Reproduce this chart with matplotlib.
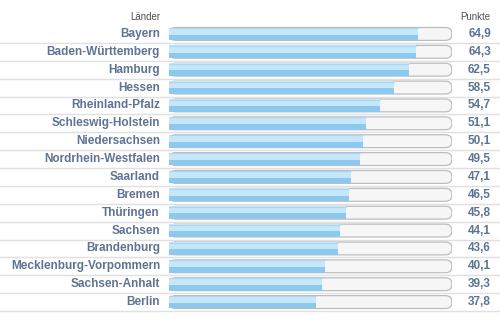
import matplotlib
matplotlib.use("Agg")
import matplotlib.pyplot as plt
from matplotlib.patches import FancyBboxPatch
import matplotlib.transforms as mtransforms

laender = [
    "Bayern", "Baden-Württemberg", "Hamburg", "Hessen", "Rheinland-Pfalz",
    "Schleswig-Holstein", "Niedersachsen", "Nordrhein-Westfalen", "Saarland",
    "Bremen", "Thüringen", "Sachsen", "Brandenburg", "Mecklenburg-Vorpommern",
    "Sachsen-Anhalt", "Berlin",
]
punkte = [64.9, 64.3, 62.5, 58.5, 54.7, 51.1, 50.1, 49.5, 47.1, 46.5, 45.8,
          44.1, 43.6, 40.1, 39.3, 37.8]
value_labels = ["64,9", "64,3", "62,5", "58,5", "54,7", "51,1", "50,1", "49,5",
                "47,1", "46,5", "45,8", "44,1", "43,6", "40,1", "39,3", "37,8"]

X_MIN, X_MAX = -1.2, 73.8
BAR_H = 0.72
TEXT_COLOR = "#5f7392"

plt.rcParams["font.family"] = ["Liberation Sans", "DejaVu Sans"]

W, H = 500, 330
fig = plt.figure(figsize=(5, 3.3), dpi=100)
ax = fig.add_axes([169 / W, 1 - 311 / H, 283 / W, 286 / H])
ax.set_xlim(X_MIN, X_MAX)
ax.set_ylim(len(laender) - 0.5, -0.5)
ax.axis("off")

# aspect for round corners: x-units per px vs y-units per px
x_per_px = (X_MAX - X_MIN) / 283
y_per_px = len(laender) / 286
radius_px = 6.5

row_tf = mtransforms.blended_transform_factory(ax.transAxes, ax.transData)
lab_tf = mtransforms.blended_transform_factory(fig.transFigure, ax.transData)

for i, (name, val, lab) in enumerate(zip(laender, punkte, value_labels)):
    top = i - BAR_H / 2
    # background track
    track = FancyBboxPatch(
        (X_MIN, top), X_MAX - X_MIN, BAR_H,
        boxstyle=f"round,pad=0,rounding_size={radius_px * x_per_px}",
        mutation_aspect=y_per_px / x_per_px,
        facecolor="#f6f6f6", edgecolor="#bdbdbd", linewidth=0.9, zorder=2,
    )
    ax.add_patch(track)
    # two-tone value bar
    ax.barh(i - BAR_H * 0.22, val - X_MIN, left=X_MIN, height=BAR_H * 0.56,
            color="#c6e6f9", linewidth=0, zorder=3)
    ax.barh(i + BAR_H * 0.28, val - X_MIN, left=X_MIN, height=BAR_H * 0.44,
            color="#8dc8ee", linewidth=0, zorder=3)
    ax.plot([X_MIN, val], [top + 0.03, top + 0.03], color="#a9d6f3",
            linewidth=0.8, zorder=4, solid_capstyle="butt")

    # row separator
    ax.plot([-0.65, 1.2], [i + 0.5, i + 0.5], transform=row_tf,
            color="#e0e0e0", linewidth=1.0, clip_on=False, zorder=1)

    ax.text(160 / W, i, name, transform=lab_tf, ha="right", va="center",
            fontsize=8.5, fontweight="bold", color=TEXT_COLOR)
    ax.text(491 / W, i, lab, transform=lab_tf, ha="right", va="center",
            fontsize=8.5, fontweight="bold", color=TEXT_COLOR)

fig.text(160 / W, 1 - 17 / H, "Länder", ha="right", va="center",
         fontsize=7.0, color="#505050")
fig.text(490 / W, 1 - 17 / H, "Punkte", ha="right", va="center",
         fontsize=7.0, color="#505050")

fig.savefig("out.png", dpi=100, facecolor="white")
